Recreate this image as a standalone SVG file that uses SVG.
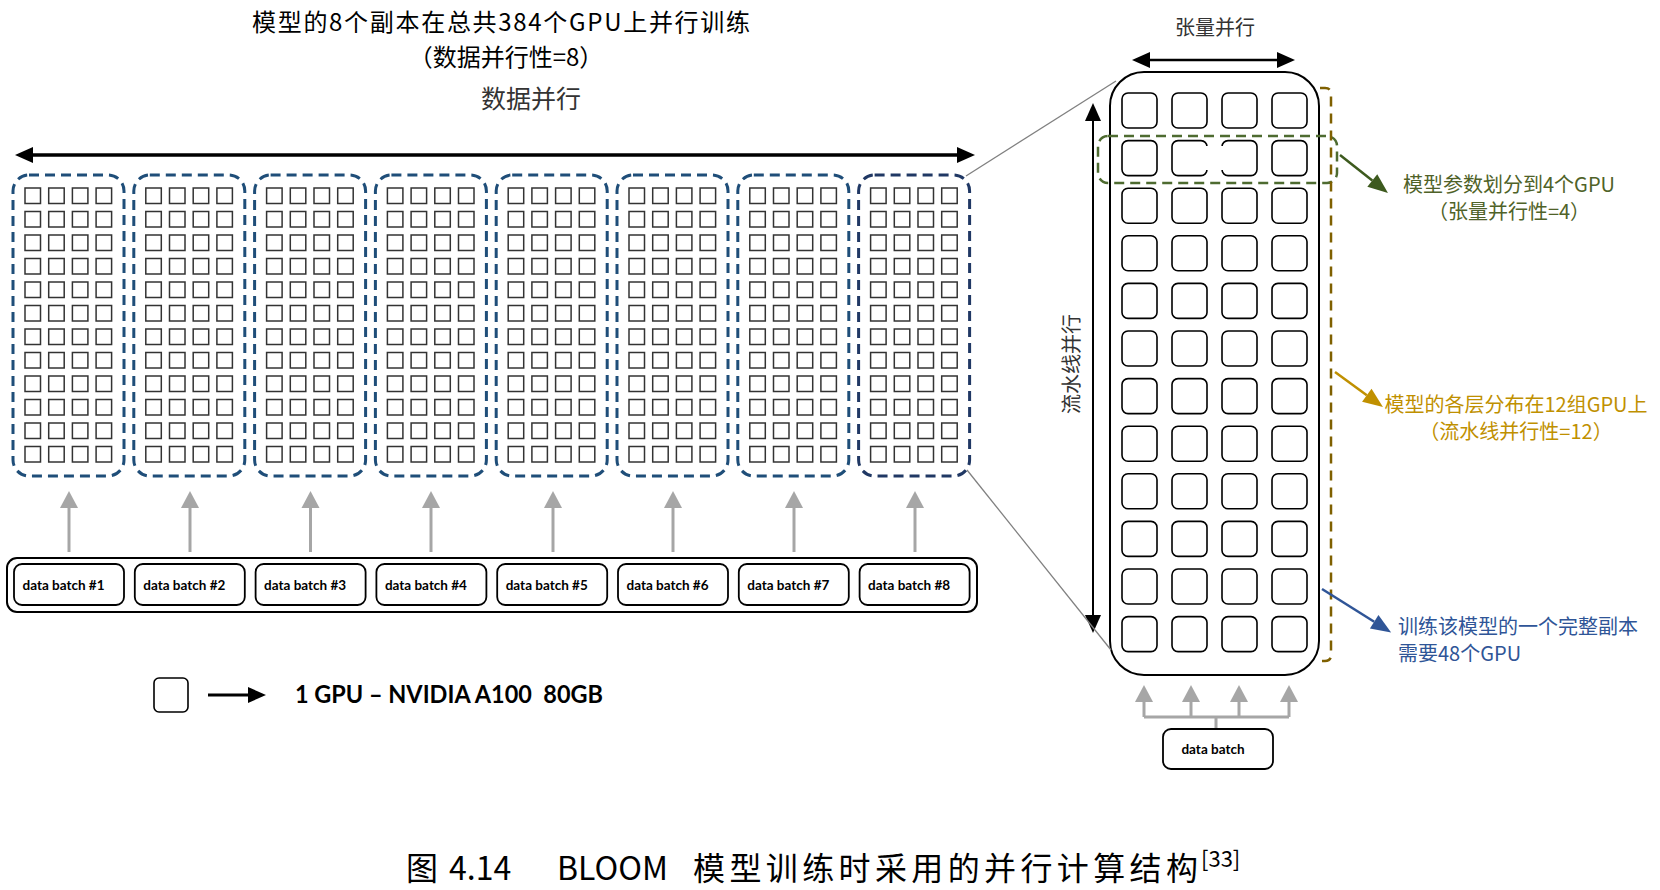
<svg xmlns="http://www.w3.org/2000/svg" xmlns:xlink="http://www.w3.org/1999/xlink" width="1660" height="890" viewBox="0 0 1660 890">
<defs>
<style>
.gpu{fill:#fff;stroke:#333;stroke-width:1.5}
.gpuR{fill:#fff;stroke:#000;stroke-width:1.6}
.grp{fill:none;stroke:#1f4e79;stroke-width:3;stroke-dasharray:10 6}
.batch{fill:#fff;stroke:#000;stroke-width:1.8}
.btxt{font-family:Lato,'Liberation Sans',sans-serif;font-weight:bold;font-size:13.5px;fill:#000}
.cjk{font-family:'Noto Sans CJK SC','Noto Sans',sans-serif}
.garrow{stroke:#a6a6a6;stroke-width:3;fill:none}
.blk{stroke:#000;fill:none}
.zoom{stroke:#808080;stroke-width:1.3;fill:none}
</style>
<marker id="ahBlack" markerWidth="18" markerHeight="16" refX="0" refY="8" orient="auto-start-reverse" markerUnits="userSpaceOnUse" overflow="visible"><path d="M0,0 L18,8 L0,16 z" fill="#000"/></marker>
<marker id="ahGray" markerWidth="17" markerHeight="18" refX="0" refY="9" orient="auto" markerUnits="userSpaceOnUse" overflow="visible"><path d="M0,0 L17,9 L0,18 z" fill="#a6a6a6"/></marker>
<marker id="ahGreen" markerWidth="20" markerHeight="16" refX="0" refY="8" orient="auto" markerUnits="userSpaceOnUse" overflow="visible"><path d="M0,0 L20,8 L0,16 z" fill="#3d5a1e"/></marker>
<marker id="ahGold" markerWidth="20" markerHeight="16" refX="0" refY="8" orient="auto" markerUnits="userSpaceOnUse" overflow="visible"><path d="M0,0 L20,8 L0,16 z" fill="#c09000"/></marker>
<marker id="ahBlue" markerWidth="20" markerHeight="16" refX="0" refY="8" orient="auto" markerUnits="userSpaceOnUse" overflow="visible"><path d="M0,0 L20,8 L0,16 z" fill="#2f5597"/></marker>
<g id="grid">
<rect class="gpu" x="12" y="13" width="15.5" height="15.5"/><rect class="gpu" x="35.7" y="13" width="15.5" height="15.5"/><rect class="gpu" x="59.4" y="13" width="15.5" height="15.5"/><rect class="gpu" x="83.1" y="13" width="15.5" height="15.5"/>
<rect class="gpu" x="12" y="36.5" width="15.5" height="15.5"/><rect class="gpu" x="35.7" y="36.5" width="15.5" height="15.5"/><rect class="gpu" x="59.4" y="36.5" width="15.5" height="15.5"/><rect class="gpu" x="83.1" y="36.5" width="15.5" height="15.5"/>
<rect class="gpu" x="12" y="60" width="15.5" height="15.5"/><rect class="gpu" x="35.7" y="60" width="15.5" height="15.5"/><rect class="gpu" x="59.4" y="60" width="15.5" height="15.5"/><rect class="gpu" x="83.1" y="60" width="15.5" height="15.5"/>
<rect class="gpu" x="12" y="83.5" width="15.5" height="15.5"/><rect class="gpu" x="35.7" y="83.5" width="15.5" height="15.5"/><rect class="gpu" x="59.4" y="83.5" width="15.5" height="15.5"/><rect class="gpu" x="83.1" y="83.5" width="15.5" height="15.5"/>
<rect class="gpu" x="12" y="107" width="15.5" height="15.5"/><rect class="gpu" x="35.7" y="107" width="15.5" height="15.5"/><rect class="gpu" x="59.4" y="107" width="15.5" height="15.5"/><rect class="gpu" x="83.1" y="107" width="15.5" height="15.5"/>
<rect class="gpu" x="12" y="130.5" width="15.5" height="15.5"/><rect class="gpu" x="35.7" y="130.5" width="15.5" height="15.5"/><rect class="gpu" x="59.4" y="130.5" width="15.5" height="15.5"/><rect class="gpu" x="83.1" y="130.5" width="15.5" height="15.5"/>
<rect class="gpu" x="12" y="154" width="15.5" height="15.5"/><rect class="gpu" x="35.7" y="154" width="15.5" height="15.5"/><rect class="gpu" x="59.4" y="154" width="15.5" height="15.5"/><rect class="gpu" x="83.1" y="154" width="15.5" height="15.5"/>
<rect class="gpu" x="12" y="177.5" width="15.5" height="15.5"/><rect class="gpu" x="35.7" y="177.5" width="15.5" height="15.5"/><rect class="gpu" x="59.4" y="177.5" width="15.5" height="15.5"/><rect class="gpu" x="83.1" y="177.5" width="15.5" height="15.5"/>
<rect class="gpu" x="12" y="201" width="15.5" height="15.5"/><rect class="gpu" x="35.7" y="201" width="15.5" height="15.5"/><rect class="gpu" x="59.4" y="201" width="15.5" height="15.5"/><rect class="gpu" x="83.1" y="201" width="15.5" height="15.5"/>
<rect class="gpu" x="12" y="224.5" width="15.5" height="15.5"/><rect class="gpu" x="35.7" y="224.5" width="15.5" height="15.5"/><rect class="gpu" x="59.4" y="224.5" width="15.5" height="15.5"/><rect class="gpu" x="83.1" y="224.5" width="15.5" height="15.5"/>
<rect class="gpu" x="12" y="248" width="15.5" height="15.5"/><rect class="gpu" x="35.7" y="248" width="15.5" height="15.5"/><rect class="gpu" x="59.4" y="248" width="15.5" height="15.5"/><rect class="gpu" x="83.1" y="248" width="15.5" height="15.5"/>
<rect class="gpu" x="12" y="271.5" width="15.5" height="15.5"/><rect class="gpu" x="35.7" y="271.5" width="15.5" height="15.5"/><rect class="gpu" x="59.4" y="271.5" width="15.5" height="15.5"/><rect class="gpu" x="83.1" y="271.5" width="15.5" height="15.5"/>
</g>
<g id="row">
<rect class="gpuR" x="1122" y="0" width="35" height="35" rx="6"/><rect class="gpuR" x="1172" y="0" width="35" height="35" rx="6"/><rect class="gpuR" x="1222" y="0" width="35" height="35" rx="6"/><rect class="gpuR" x="1272" y="0" width="35" height="35" rx="6"/>
</g>
</defs>
<rect width="1660" height="890" fill="#fff"/>

<g id="titles" class="cjk">
<text x="252" y="31" font-size="24" textLength="498" lengthAdjust="spacing" fill="#000">模型的8个副本在总共384个GPU上并行训练</text>
<text x="506" y="66" font-size="24" text-anchor="middle" fill="#000">（数据并行性=8）</text>
<text x="531" y="108" font-size="25" text-anchor="middle" fill="#333">数据并行</text>
<text x="1215" y="35" font-size="20" text-anchor="middle" fill="#333">张量并行</text>
<text x="1072" y="371" font-size="20" text-anchor="middle" fill="#333" transform="rotate(-90 1072 364)">流水线并行</text>
</g>

<g id="replicas">
<g id="replica-1"><rect class="grp" x="13" y="175" width="111" height="301" rx="16"/><use xlink:href="#grid" x="13" y="175"/></g>
<g id="replica-2"><rect class="grp" x="133.8" y="175" width="111" height="301" rx="16"/><use xlink:href="#grid" x="133.8" y="175"/></g>
<g id="replica-3"><rect class="grp" x="254.6" y="175" width="111" height="301" rx="16"/><use xlink:href="#grid" x="254.6" y="175"/></g>
<g id="replica-4"><rect class="grp" x="375.4" y="175" width="111" height="301" rx="16"/><use xlink:href="#grid" x="375.4" y="175"/></g>
<g id="replica-5"><rect class="grp" x="496.2" y="175" width="111" height="301" rx="16"/><use xlink:href="#grid" x="496.2" y="175"/></g>
<g id="replica-6"><rect class="grp" x="617" y="175" width="111" height="301" rx="16"/><use xlink:href="#grid" x="617" y="175"/></g>
<g id="replica-7"><rect class="grp" x="737.8" y="175" width="111" height="301" rx="16"/><use xlink:href="#grid" x="737.8" y="175"/></g>
<g id="replica-8"><rect class="grp" x="858.6" y="175" width="111" height="301" rx="16" style="stroke:#203864"/><use xlink:href="#grid" x="858.6" y="175"/></g>
</g>

<g id="batches">
<rect x="7" y="558" width="970" height="54" rx="10" fill="#fff" stroke="#000" stroke-width="2"/>
<g id="batch-1"><rect class="batch" x="14" y="564" width="110" height="41" rx="8"/><text class="btxt" x="22.5" y="590">data batch #1</text></g>
<g id="batch-2"><rect class="batch" x="134.8" y="564" width="110" height="41" rx="8"/><text class="btxt" x="143.3" y="590">data batch #2</text></g>
<g id="batch-3"><rect class="batch" x="255.6" y="564" width="110" height="41" rx="8"/><text class="btxt" x="264.1" y="590">data batch #3</text></g>
<g id="batch-4"><rect class="batch" x="376.4" y="564" width="110" height="41" rx="8"/><text class="btxt" x="384.9" y="590">data batch #4</text></g>
<g id="batch-5"><rect class="batch" x="497.2" y="564" width="110" height="41" rx="8"/><text class="btxt" x="505.7" y="590">data batch #5</text></g>
<g id="batch-6"><rect class="batch" x="618" y="564" width="110" height="41" rx="8"/><text class="btxt" x="626.5" y="590">data batch #6</text></g>
<g id="batch-7"><rect class="batch" x="738.8" y="564" width="110" height="41" rx="8"/><text class="btxt" x="747.3" y="590">data batch #7</text></g>
<g id="batch-8"><rect class="batch" x="859.6" y="564" width="110" height="41" rx="8"/><text class="btxt" x="868.1" y="590">data batch #8</text></g>
</g>

<g id="replica-detail">
<rect x="1110" y="72" width="209" height="603" rx="34" fill="#fff" stroke="#000" stroke-width="2"/>
<use xlink:href="#row" y="93"/><use xlink:href="#row" y="140.6"/><use xlink:href="#row" y="188.2"/><use xlink:href="#row" y="235.8"/>
<use xlink:href="#row" y="283.4"/><use xlink:href="#row" y="331"/><use xlink:href="#row" y="378.6"/><use xlink:href="#row" y="426.2"/>
<use xlink:href="#row" y="473.8"/><use xlink:href="#row" y="521.4"/><use xlink:href="#row" y="569"/><use xlink:href="#row" y="616.6"/>
<rect x="1205" y="146" width="19" height="24" fill="#fff"/>
</g>

<g id="tensor-group"><rect x="1098" y="136" width="239" height="47" rx="10" fill="none" stroke="#4e6b30" stroke-width="2.5" stroke-dasharray="10 6"/></g>
<g id="pipeline-group"><path d="M1320,88 H1325 Q1331,88 1331,94 V655 Q1331,661 1325,661 H1320" fill="none" stroke="#7f6000" stroke-width="2.5" stroke-dasharray="10 7"/></g>

<g id="connectors">
<line class="blk" x1="33" y1="155" x2="957" y2="155" stroke-width="3.5" marker-start="url(#ahBlack)" marker-end="url(#ahBlack)"/>
<line class="blk" x1="1150" y1="60" x2="1277" y2="60" stroke-width="2.5" marker-start="url(#ahBlack)" marker-end="url(#ahBlack)"/>
<line class="blk" x1="1093" y1="121" x2="1093" y2="615" stroke-width="2" marker-start="url(#ahBlack)" marker-end="url(#ahBlack)"/>
<line class="zoom" x1="966" y1="176" x2="1116" y2="81"/>
<line class="zoom" x1="967" y1="470" x2="1111" y2="650"/>
<line class="garrow" x1="69" y1="552" x2="69" y2="508" marker-end="url(#ahGray)"/>
<line class="garrow" x1="190" y1="552" x2="190" y2="508" marker-end="url(#ahGray)"/>
<line class="garrow" x1="310.5" y1="552" x2="310.5" y2="508" marker-end="url(#ahGray)"/>
<line class="garrow" x1="431" y1="552" x2="431" y2="508" marker-end="url(#ahGray)"/>
<line class="garrow" x1="553" y1="552" x2="553" y2="508" marker-end="url(#ahGray)"/>
<line class="garrow" x1="673" y1="552" x2="673" y2="508" marker-end="url(#ahGray)"/>
<line class="garrow" x1="794" y1="552" x2="794" y2="508" marker-end="url(#ahGray)"/>
<line class="garrow" x1="915" y1="552" x2="915" y2="508" marker-end="url(#ahGray)"/>
<path class="garrow" d="M1144,717 H1289 M1216,717 V729"/>
<line class="garrow" x1="1144" y1="717" x2="1144" y2="702" marker-end="url(#ahGray)"/>
<line class="garrow" x1="1191" y1="717" x2="1191" y2="702" marker-end="url(#ahGray)"/>
<line class="garrow" x1="1239" y1="717" x2="1239" y2="702" marker-end="url(#ahGray)"/>
<line class="garrow" x1="1289" y1="717" x2="1289" y2="702" marker-end="url(#ahGray)"/>
<line x1="1340" y1="155" x2="1372.3" y2="180.6" stroke="#3d5a1e" stroke-width="2.5" marker-end="url(#ahGreen)"/>
<line x1="1335" y1="372" x2="1366.8" y2="395.2" stroke="#c09000" stroke-width="2.5" marker-end="url(#ahGold)"/>
<line x1="1322" y1="589" x2="1374.2" y2="621.8" stroke="#2f5597" stroke-width="2.5" marker-end="url(#ahBlue)"/>
<line class="blk" x1="208" y1="695" x2="248" y2="695" stroke-width="3" marker-end="url(#ahBlack)"/>
</g>

<g id="single-batch"><rect class="batch" x="1163" y="729" width="110" height="40" rx="8"/><text class="btxt" x="1213" y="754" text-anchor="middle">data batch</text></g>

<g id="annotations" class="cjk" font-size="20">
<text x="1509" y="192" text-anchor="middle" fill="#4f6228">模型参数划分到4个GPU</text>
<text x="1509" y="219" text-anchor="middle" fill="#4f6228">（张量并行性=4）</text>
<text x="1516" y="412" text-anchor="middle" fill="#bf9000">模型的各层分布在12组GPU上</text>
<text x="1516" y="439" text-anchor="middle" fill="#bf9000">（流水线并行性=12）</text>
<text x="1398" y="634" fill="#2f5597">训练该模型的一个完整副本</text>
<text x="1398" y="661" fill="#2f5597">需要48个GPU</text>
</g>

<g id="legend">
<rect x="154" y="678" width="34" height="34" rx="5" fill="#fff" stroke="#000" stroke-width="1.6"/>
<text x="295" y="703" font-family="Lato,'Liberation Sans',sans-serif" font-weight="bold" font-size="24" textLength="308" lengthAdjust="spacingAndGlyphs" fill="#000">1 GPU – NVIDIA A100&#160; 80GB</text>
</g>

<g id="caption" class="cjk" font-size="32" fill="#000">
<text y="880"><tspan x="406">图</tspan><tspan x="449">4.14</tspan><tspan x="557">BLOOM</tspan><tspan x="693" textLength="505" lengthAdjust="spacing">模型训练时采用的并行计算结构</tspan><tspan x="1201" dy="-13" font-size="22">[33]</tspan></text>
</g>
</svg>
